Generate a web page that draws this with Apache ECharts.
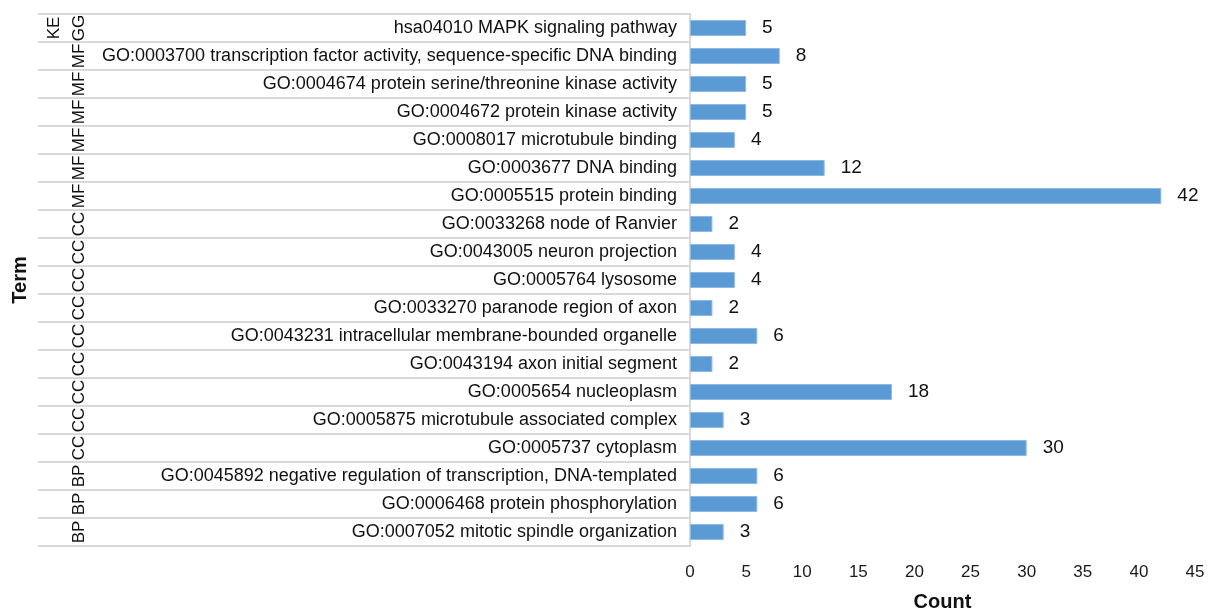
<!DOCTYPE html>
<html lang="en">
<head>
    <meta charset="UTF-8">
    <title>Term Count</title>
    <script type="text/javascript" src="https://cdn.jsdelivr.net/npm/echarts@6/dist/echarts.min.js"></script>
    <style>
        html, body { margin: 0; padding: 0; background: #fff; }
        #chart { width: 1208px; height: 609px; }
    </style>
</head>
<body>
<div id="chart"></div>
<script type="text/javascript">
    // 分类（从上到下）
    var groups = ['KE\nGG', 'MF', 'MF', 'MF', 'MF', 'MF', 'MF',
        'CC', 'CC', 'CC', 'CC', 'CC', 'CC', 'CC', 'CC', 'CC',
        'BP', 'BP', 'BP'];
    var terms = [
        'hsa04010 MAPK signaling pathway',
        'GO:0003700 transcription factor activity, sequence-specific DNA binding',
        'GO:0004674 protein serine/threonine kinase activity',
        'GO:0004672 protein kinase activity',
        'GO:0008017 microtubule binding',
        'GO:0003677 DNA binding',
        'GO:0005515 protein binding',
        'GO:0033268 node of Ranvier',
        'GO:0043005 neuron projection',
        'GO:0005764 lysosome',
        'GO:0033270 paranode region of axon',
        'GO:0043231 intracellular membrane-bounded organelle',
        'GO:0043194 axon initial segment',
        'GO:0005654 nucleoplasm',
        'GO:0005875 microtubule associated complex',
        'GO:0005737 cytoplasm',
        'GO:0045892 negative regulation of transcription, DNA-templated',
        'GO:0006468 protein phosphorylation',
        'GO:0007052 mitotic spindle organization'
    ];
    var counts = [5, 8, 5, 5, 4, 12, 42, 2, 4, 4, 2, 6, 2, 18, 3, 30, 6, 6, 3];

    var font = 'Liberation Sans, Arial, sans-serif';
    var lineColor = '#d9d9d9';

    var chart = echarts.init(document.getElementById('chart'));
    var option = {
        animation: false,
        textStyle: { fontFamily: font },
        grid: [
            // 左边的表格区域
            { left: 38, right: 518, top: 14, bottom: 63, outerBoundsMode: 'none' },
            // 柱状图区域
            { left: 690, right: 13, top: 14, bottom: 63, outerBoundsMode: 'none' }
        ],
        xAxis: [
            { gridIndex: 0, type: 'value', show: false, min: 0, max: 1 },
            {
                gridIndex: 1, type: 'value', min: 0, max: 45, interval: 5,
                axisLine: { show: false }, axisTick: { show: false }, splitLine: { show: false },
                axisLabel: { fontSize: 17, color: '#1a1a1a', margin: 18, fontFamily: font },
                name: 'Count', nameLocation: 'middle', nameGap: 46,
                nameTextStyle: { fontSize: 20, fontWeight: 'bold', color: '#111', fontFamily: font }
            }
        ],
        yAxis: [
            {
                gridIndex: 0, type: 'category', inverse: true, data: terms,
                axisLine: { show: false }, axisTick: { show: false }, axisLabel: { show: false },
                splitLine: { show: true, lineStyle: { color: lineColor, width: 2 } },
                name: 'Term', nameLocation: 'middle', nameGap: 8,
                nameTextStyle: { fontSize: 20, fontWeight: 'bold', color: '#111', fontFamily: font }
            },
            {
                gridIndex: 0, type: 'category', inverse: true, data: terms,
                position: 'left', offset: -58,
                axisLine: { show: false }, axisTick: { show: false }, splitLine: { show: false },
                axisLabel: {
                    interval: 0, rotate: 90, margin: 4, fontSize: 17, lineHeight: 25,
                    color: '#111', fontFamily: font,
                    formatter: function (v, i) { return groups[i]; }
                }
            },
            {
                gridIndex: 1, type: 'category', inverse: true, data: terms,
                axisLine: { show: true, lineStyle: { color: lineColor, width: 2 } },
                axisTick: { show: false }, splitLine: { show: false },
                axisLabel: { interval: 0, fontSize: 18, color: '#111', margin: 13, fontFamily: font }
            }
        ],
        series: [{
            type: 'bar',
            xAxisIndex: 1,
            yAxisIndex: 2,
            data: counts,
            barWidth: 16,
            itemStyle: { color: '#5b9bd5', borderColor: '#8fb8e2', borderWidth: 1 },
            label: {
                show: true, position: 'right', distance: 16,
                fontSize: 19, color: '#111', fontFamily: font
            }
        }]
    };
    chart.setOption(option);
</script>
</body>
</html>
